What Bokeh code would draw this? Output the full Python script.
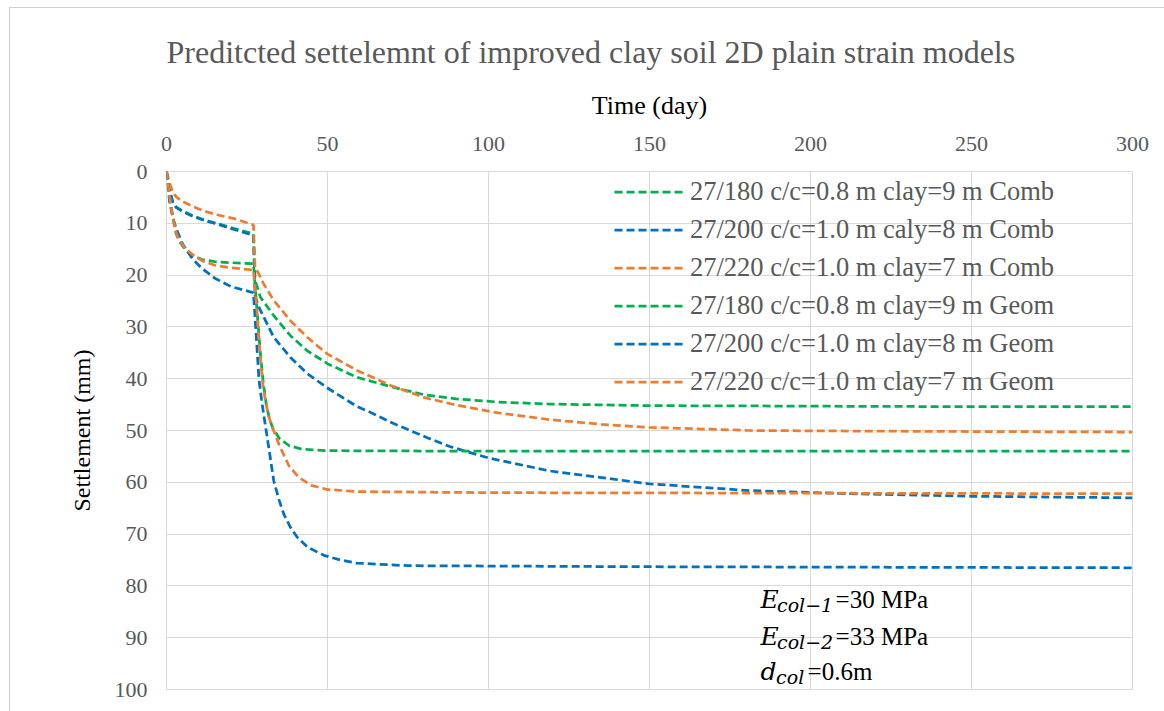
from bokeh.plotting import figure
from bokeh.models import Range1d, FixedTicker, Legend, LegendItem, Label
from bokeh.embed import file_html
from bokeh.resources import INLINE

# ---------------- data ----------------
x_ticks = [0, 50, 100, 150, 200, 250, 300]
y_ticks = [0, 10, 20, 30, 40, 50, 60, 70, 80, 90, 100]

labels = [
    "27/180 c/c=0.8 m clay=9 m Comb",
    "27/200 c/c=1.0 m caly=8 m Comb",
    "27/220 c/c=1.0 m clay=7 m Comb",
    "27/180 c/c=0.8 m clay=9 m Geom",
    "27/200 c/c=1.0 m clay=8 m Geom",
    "27/220 c/c=1.0 m clay=7 m Geom",
]

t_comb_green = [0, 1, 2, 3, 5, 8, 12, 16, 21, 27, 27.5, 29.2, 33.3, 38.5, 43.7, 50, 59, 70, 80, 90, 103, 119, 150, 200, 250, 300]
s_comb_green = [0, 3.8, 6.0, 6.9, 7.6, 8.5, 9.4, 10.1, 11.0, 12.0, 21.0, 24.3, 27.8, 31.7, 34.6, 37.1, 39.7, 41.6, 43.1, 43.9, 44.5, 44.9, 45.2, 45.3, 45.4, 45.4]

t_comb_blue = [0, 1, 2, 3, 5, 8, 12, 16, 21, 27, 27.5, 28.7, 30.2, 33.3, 38.5, 43.7, 50, 59, 64.4, 70, 81, 88, 100, 119, 150, 181, 212, 250, 300]
s_comb_blue = [0, 3.8, 6.0, 6.9, 7.7, 8.6, 9.5, 10.2, 11.2, 12.3, 24.0, 26.2, 28.1, 32.0, 35.9, 39.0, 41.8, 45.3, 46.8, 48.5, 51.4, 53.1, 55.3, 57.8, 60.3, 61.6, 62.2, 62.7, 63.0]

t_comb_orange = [0, 1, 2, 3, 5, 8, 12, 16, 21, 27, 27.5, 28.7, 30, 33.3, 38.5, 43.7, 49.9, 59.2, 69.6, 79.9, 90, 103, 119, 135, 150, 181, 212, 250, 300]
s_comb_orange = [0, 2.3, 4.0, 4.9, 5.8, 6.7, 7.7, 8.4, 9.1, 10.3, 18.5, 19.8, 21.5, 24.9, 28.8, 32.0, 35.2, 38.4, 41.3, 43.6, 45.1, 46.6, 47.9, 48.8, 49.4, 50.0, 50.1, 50.2, 50.3]

t_geom_green = [0, 1, 2, 3, 4, 6, 8, 11, 15, 20, 27, 28, 29, 30, 31, 32, 33, 35, 38, 42, 50, 100, 300]
s_geom_green = [0, 5.0, 9.0, 12.0, 13.5, 15.2, 16.2, 17.0, 17.4, 17.6, 17.8, 26.0, 34.0, 40.5, 45.0, 47.8, 49.5, 51.5, 52.9, 53.6, 53.9, 54.0, 54.0]

t_geom_blue = [0, 1, 2, 3, 5, 8, 11, 15, 20, 27, 28, 28.7, 29.5, 30.2, 31, 32, 33.3, 35, 36.4, 38.5, 40.6, 44, 48.9, 54, 59, 75, 150, 300]
s_geom_blue = [0, 6.0, 9.0, 11.0, 14.0, 16.8, 18.7, 20.6, 22.2, 23.4, 33.0, 40.0, 44.0, 47.0, 50.2, 54.3, 59.7, 63.5, 66.1, 68.7, 70.6, 72.6, 74.1, 75.0, 75.6, 76.1, 76.3, 76.5]

t_geom_orange = [0, 1, 2, 3, 4, 6, 8, 11, 15, 20, 27, 28, 29, 30, 31, 32, 33, 35, 38, 41, 45, 50, 60, 100, 300]
s_geom_orange = [0, 5.0, 9.0, 11.8, 13.3, 15.0, 16.0, 17.2, 18.1, 18.6, 19.0, 26.0, 35.0, 41.5, 45.2, 47.8, 49.6, 52.8, 56.8, 59.0, 60.6, 61.4, 61.8, 62.0, 62.2]

GREEN, BLUE, ORANGE = "#00B050", "#0070C0", "#ED7D31"
series = [
    (t_comb_green, s_comb_green, GREEN),
    (t_comb_blue, s_comb_blue, BLUE),
    (t_comb_orange, s_comb_orange, ORANGE),
    (t_geom_green, s_geom_green, GREEN),
    (t_geom_blue, s_geom_blue, BLUE),
    (t_geom_orange, s_geom_orange, ORANGE),
]

# ---------------- figure ----------------
p = figure(width=1155, height=704, output_backend="svg", toolbar_location=None,
           x_range=Range1d(0, 300), y_range=Range1d(100, 0), x_axis_location="above",
           min_border_left=156, min_border_right=33, min_border_top=163, min_border_bottom=23,
           styles={"margin-left": "9px", "margin-top": "7px",
                   "border-left": "1px solid #d0d0d0", "border-top": "1px solid #d0d0d0"})

p.title.text = "Preditcted settelemnt of improved clay soil 2D plain strain models"
p.title.text_font = "Liberation Serif"
p.title.text_font_size = "32px"
p.title.text_font_style = "normal"
p.title.text_color = "#595959"
p.title.align = "left"
p.title.standoff = 35

p.outline_line_color = "#D9D9D9"
p.background_fill_color = "white"
p.border_fill_color = "white"

for ax in (p.xaxis[0], p.yaxis[0]):
    ax.axis_line_color = None
    ax.major_tick_line_color = None
    ax.minor_tick_line_color = None
    ax.major_label_text_font = "Liberation Serif"
    ax.major_label_text_font_size = "22px"
    ax.major_label_text_color = "#595959"
    ax.axis_label_text_font = "Liberation Serif"
    ax.axis_label_text_font_style = "normal"
    ax.axis_label_text_color = "#000000"

p.xaxis.axis_label_text_font_size = "26px"
p.yaxis.axis_label_text_font_size = "24px"
p.xaxis.ticker = FixedTicker(ticks=x_ticks)
p.yaxis.ticker = FixedTicker(ticks=y_ticks)
p.xaxis.axis_label = "Time (day)"
p.yaxis.axis_label = "Settlement (mm)"
p.xaxis.major_label_standoff = 15
p.xaxis.axis_label_standoff = 14
p.yaxis.major_label_standoff = 13
p.yaxis.axis_label_standoff = 17

p.xgrid.grid_line_color = "#D9D9D9"
p.ygrid.grid_line_color = "#D9D9D9"
p.xgrid.ticker = FixedTicker(ticks=x_ticks)
p.ygrid.ticker = FixedTicker(ticks=y_ticks)

renderers = []
for t, s, c in series:
    r = p.line(t, s, line_color=c, line_width=2.75, line_dash="8 4")
    renderers.append(r)

legend = Legend(items=[LegendItem(label=l, renderers=[r]) for l, r in zip(labels, renderers)],
                location=(448, 292))
legend.background_fill_alpha = 0
legend.border_line_color = None
legend.padding = 0
legend.margin = 0
legend.spacing = 7
legend.label_height = 31
legend.glyph_height = 31
legend.glyph_width = 69
legend.label_standoff = 7
legend.label_text_font = "Liberation Serif"
legend.label_text_font_size = "26.5px"
legend.label_text_color = "#595959"
p.add_layout(legend)

# annotation (E_col-1, E_col-2, d_col)
def add(x, y, txt, size, font, italic):
    p.add_layout(Label(x=x, y=y, text=txt, text_font=font,
                       text_font_size=size,
                       text_font_style="italic" if italic else "normal",
                       text_color="#000000", text_align="left", text_baseline="alphabetic"))

SER, MATH = "Liberation Serif", "DejaVu Serif"
add(184.5, 82.6, "E", "25px", MATH, True)
add(189.6, 83.6, "col\u22121", "19px", MATH, True)
add(207.8, 82.6, "=30 MPa", "25px", SER, False)
add(184.5, 89.8, "E", "25px", MATH, True)
add(189.6, 90.8, "col\u22122", "19px", MATH, True)
add(207.8, 89.8, "=33 MPa", "25px", SER, False)
add(184.5, 96.6, "d", "25px", MATH, True)
add(189.3, 97.5, "col", "19px", MATH, True)
add(199.1, 96.6, "=0.6m", "25px", SER, False)

open("out.html", "w").write(file_html(p, INLINE))
